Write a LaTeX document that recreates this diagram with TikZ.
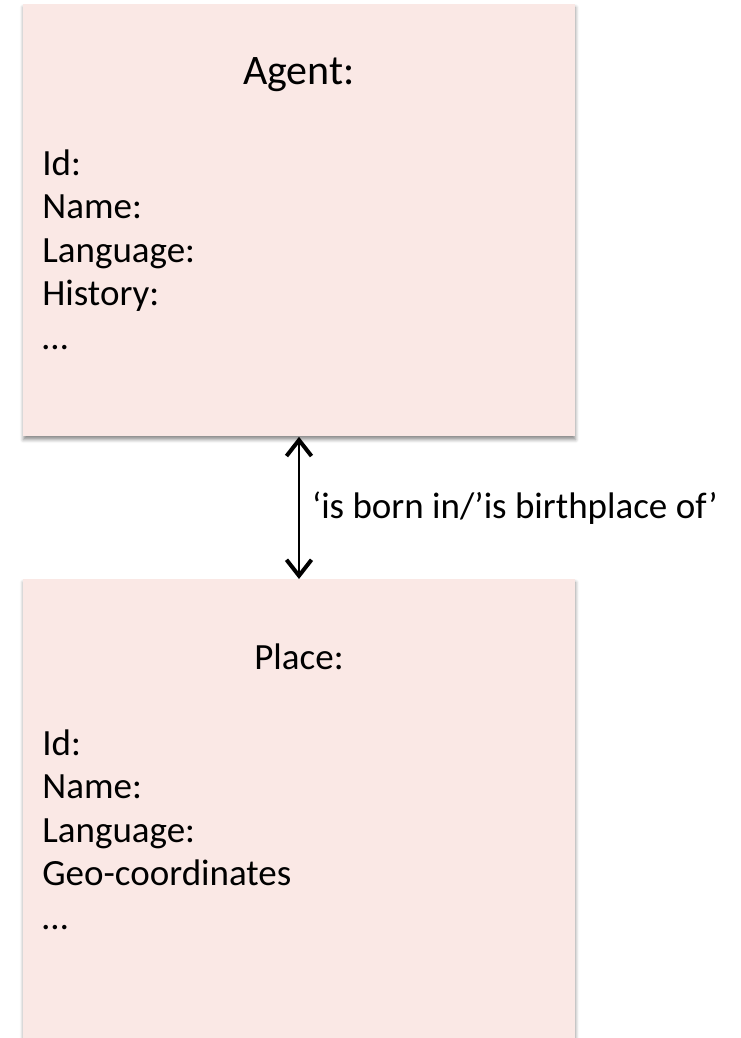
\documentclass[tikz,border=0pt]{standalone}
\usepackage{fontspec}
\setmainfont{Carlito}
\usepackage{xcolor}
\usetikzlibrary{arrows.meta, positioning, calc, shadows.blur}

\definecolor{boxpink}{RGB}{250,232,229}

\tikzset{
  entity/.style={rectangle, fill=boxpink, minimum width=276pt, inner sep=0pt,
    blur shadow={shadow xshift=0pt, shadow yshift=-1.6pt, shadow blur radius=1.8pt, shadow opacity=45}},
  txt/.style={font=\fontsize{18.5}{21.75}\selectfont, inner sep=0pt},
  bigtxt/.style={font=\fontsize{21}{25}\selectfont, inner sep=0pt},
  lst/.style={txt, align=left, anchor=base west},
  barb/.tip={Straight Barb[length=8pt, width=12.5pt, line width=2pt]},
  rel/.style={barb-barb, line width=1pt}
}

\begin{document}
\begin{tikzpicture}[x=0.5pt, y=-0.5pt]
  \useasboundingbox (0,0) rectangle (740,1038);
  \clip (0,0) rectangle (740,1038);

  % the two entities
  \node[entity, minimum height=216pt, anchor=north west] (agent) at (23,4) {};
  \node[entity, minimum height=250pt, anchor=north west] (place) at (23,579) {};

  \node[bigtxt, anchor=base] (agenttitle) at (299,85) {Agent:};
  % base of a multi-line node = baseline of its last line
  \node[lst] (agentfields) at (42,349) {Id:\\Name:\\Language:\\History:\\…};

  \node[txt, anchor=base] (placetitle) at (299,669) {Place:};
  \node[lst] (placefields) at (42,929) {Id:\\Name:\\Language:\\Geo-coordinates\\…};

  % relation
  \draw[rel] (agent.south -| 299,0) -- (place.north -| 299,0)
    node[midway, right=6pt, txt] (relation) {‘is born in/’is birthplace of’};
\end{tikzpicture}
\end{document}
